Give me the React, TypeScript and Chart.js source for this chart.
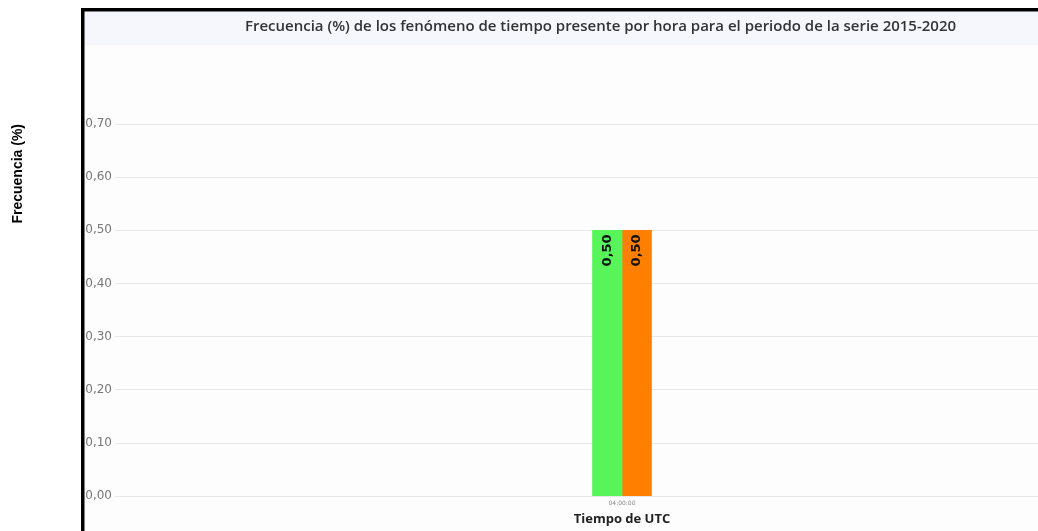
import React, { useEffect, useRef } from "react";
import { Chart, registerables } from "chart.js";

Chart.register(...registerables);

const categories: string[] = ["04:00:00"];
const seriesA: number[] = [0.5];
const seriesB: number[] = [0.5];
const seriesNames: string[] = ["Fenómeno A", "Fenómeno B"];
const seriesColors: string[] = ["#58f55a", "#ff8000"];
const yTicks: number[] = [0, 0.1, 0.2, 0.3, 0.4, 0.5, 0.6, 0.7];
const chartTitle = "Frecuencia (%) de los fenómeno de tiempo presente por hora para el periodo de la serie 2015-2020";
const xTitle = "Tiempo de UTC";
const yTitle = "Frecuencia (%)";

const fmt = (v: number) => v.toFixed(2).replace(".", ",");

const framePlugin = {
  id: "frame",
  beforeDraw(chart: any) {
    const { ctx, width, height } = chart;
    ctx.save();
    ctx.fillStyle = "#fdfdfe";
    ctx.fillRect(84, 12, width - 84, height - 12);
    ctx.fillStyle = "#f5f7fd";
    ctx.fillRect(84, 12, width - 84, 33);
    ctx.fillStyle = "#000";
    ctx.fillRect(81, 8, 3.5, height - 8);
    ctx.fillRect(81, 8, width - 81, 3.5);
    ctx.restore();
  },
};

const labelPlugin = {
  id: "barLabels",
  afterDatasetsDraw(chart: any) {
    const { ctx } = chart;
    ctx.save();
    chart.data.datasets.forEach((ds: any, di: number) => {
      const meta = chart.getDatasetMeta(di);
      meta.data.forEach((bar: any, i: number) => {
        const v = ds.data[i];
        ctx.save();
        ctx.translate(bar.x, bar.y + 4);
        ctx.rotate(-Math.PI / 2);
        ctx.font = "bold 13px 'DejaVu Sans'";
        ctx.fillStyle = "#111";
        ctx.textAlign = "right";
        ctx.textBaseline = "middle";
        ctx.fillText(fmt(v), 0, 0);
        ctx.restore();
      });
    });
    ctx.restore();
  },
};

export default function App() {
  const ref = useRef<HTMLCanvasElement | null>(null);
  useEffect(() => {
    if (!ref.current) return;
    const chart = new Chart(ref.current, {
      type: "bar",
      data: {
        labels: categories,
        datasets: [
          { label: seriesNames[0], data: seriesA, backgroundColor: seriesColors[0], barThickness: 29.5 },
          { label: seriesNames[1], data: seriesB, backgroundColor: seriesColors[1], barThickness: 29.5 },
        ],
      },
      options: {
        responsive: false,
        animation: false,
        layout: { padding: 0 },
        plugins: {
          legend: { display: false },
          tooltip: { enabled: false },
          title: {
            display: true,
            text: chartTitle,
            color: "#333",
            font: { family: "'Open Sans'", weight: 600, size: 15 },
            padding: { top: 18, bottom: 88 },
          },
        },
        scales: {
          x: {
            type: "category",
            grid: { display: false, drawTicks: false },
            border: { display: false },
            ticks: { color: "#888", font: { family: "'DejaVu Sans'", size: 6 }, padding: 4 },
            title: {
              display: true,
              text: xTitle,
              color: "#222",
              font: { family: "'Open Sans'", weight: "bold", size: 13 },
              padding: { top: 0, bottom: 4 },
            },
          },
          y: {
            min: 0,
            max: 0.7,
            afterBuildTicks: (scale: any) => {
              scale.ticks = yTicks.map((v) => ({ value: v }));
            },
            afterFit: (scale: any) => {
              scale.width = 115;
            },
            grid: { color: "#e8e8e8", drawTicks: false },
            border: { display: false },
            ticks: {
              color: "#777",
              font: { family: "'DejaVu Sans'", size: 12 },
              padding: 3,
              callback: (v: any) => fmt(Number(v)),
            },
            title: {
              display: true,
              text: yTitle,
              align: "end",
              color: "#000",
              font: { family: "'Liberation Sans'", weight: "bold", size: 14 },
              padding: { top: 10, bottom: 0 },
            },
          },
          yR: {
            position: "right",
            display: true,
            grid: { display: false, drawTicks: false },
            border: { display: false },
            ticks: { display: false },
            afterFit: (scale: any) => {
              scale.width = 72;
            },
          },
        },
      } as any,
      plugins: [framePlugin, labelPlugin],
    });
    return () => chart.destroy();
  }, []);
  return (
    <div style={{ position: "fixed", left: 0, top: 0, width: 1038, height: 531, overflow: "hidden", background: "#fff" }}>
      <canvas ref={ref} width={1201} height={531} style={{ width: 1201, height: 531, display: "block" }} />
    </div>
  );
}
